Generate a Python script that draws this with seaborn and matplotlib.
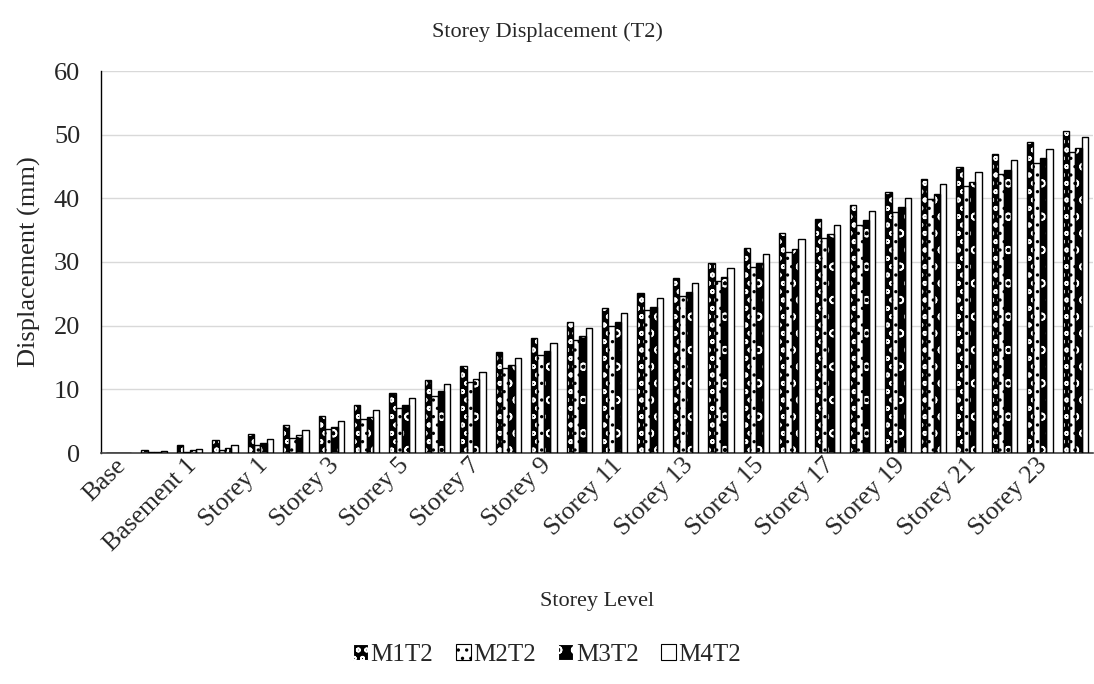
import numpy as np
import pandas as pd
import matplotlib
matplotlib.use("Agg")
import matplotlib.pyplot as plt
import matplotlib.transforms as mtransforms
from matplotlib.patches import Patch
import seaborn as sns

# Storey levels from the base upwards
levels = ["Base", "Basement 2", "Basement 1", "Ground"] + [f"Storey {i}" for i in range(1, 25)]

# Lateral storey displacement (mm) for each model under load case T2
m1t2 = [0.0, 0.4, 1.2, 2.0, 3.0, 4.4, 5.8, 7.5, 9.4, 11.5, 13.6, 15.8, 18.1, 20.5,
        22.8, 25.1, 27.5, 29.9, 32.2, 34.5, 36.7, 38.9, 41.0, 43.0, 45.0, 47.0, 48.8, 50.5]
m2t2 = [0.0, 0.15, 0.2, 0.5, 1.3, 2.4, 3.7, 5.3, 7.1, 9.0, 11.1, 13.3, 15.4, 17.7,
        20.0, 22.4, 24.7, 27.0, 29.2, 31.6, 33.8, 35.8, 37.9, 39.9, 41.9, 43.8, 45.6, 47.3]
m3t2 = [0.0, 0.2, 0.4, 0.8, 1.6, 2.8, 4.1, 5.7, 7.5, 9.7, 11.6, 13.8, 16.0, 18.3,
        20.6, 22.9, 25.3, 27.6, 29.9, 32.1, 34.4, 36.6, 38.6, 40.7, 42.6, 44.4, 46.3, 47.9]
m4t2 = [0.0, 0.25, 0.6, 1.3, 2.2, 3.6, 5.0, 6.7, 8.6, 10.8, 12.8, 15.0, 17.2, 19.6,
        22.0, 24.3, 26.7, 29.0, 31.3, 33.6, 35.8, 38.0, 40.0, 42.2, 44.1, 46.0, 47.8, 49.6]
models = ["M1T2", "M2T2", "M3T2", "M4T2"]

df = pd.DataFrame({
    "Storey": levels * 4,
    "Displacement": m1t2 + m2t2 + m3t2 + m4t2,
    "Model": np.repeat(models, len(levels)),
})

sns.set_theme(style="white")
plt.rcParams["font.family"] = ["Liberation Serif", "DejaVu Serif"]
plt.rcParams["hatch.linewidth"] = 1.2

# Black-and-white fill styles per series: face, hatch-colour, hatch
styles = {
    "M1T2": dict(facecolor="black", edgecolor="white", hatch="oo"),
    "M2T2": dict(facecolor="white", edgecolor="black", hatch=".."),
    "M3T2": dict(facecolor="black", edgecolor="white", hatch="o"),
    "M4T2": dict(facecolor="white", edgecolor="black", hatch=""),
}

fig = plt.figure(figsize=(10.94, 6.84), dpi=100)
ax = fig.add_axes([101 / 1094, 231 / 684, 992 / 1094, 382 / 684])

sns.barplot(data=df, x="Storey", y="Displacement", hue="Model", order=levels,
            hue_order=models, width=0.72, errorbar=None, legend=False, ax=ax)

for container, model in zip(ax.containers, models):
    st = styles[model]
    for bar in container:
        bar.set_facecolor(st["facecolor"])
        bar.set_edgecolor(st["edgecolor"])
        bar.set_hatch(st["hatch"])
        bar.set_linewidth(0.6)
        # thin black outline on top of the hatched fill
        x, y = bar.get_xy()
        ax.add_patch(plt.Rectangle((x, y), bar.get_width(), bar.get_height(),
                                   fill=False, edgecolor="black", linewidth=1.0, zorder=3))

ax.set_ylim(0, 60)
ax.set_yticks(np.arange(0, 61, 10))
ax.set_xlim(-0.5, len(levels) - 0.5)
ax.yaxis.grid(True, color="#d9d9d9", linewidth=1.0)
ax.set_axisbelow(True)
for side in ("top", "right"):
    ax.spines[side].set_visible(False)
ax.spines["left"].set_color("black")
ax.spines["bottom"].set_color("#404040")
ax.spines["left"].set_linewidth(1.0)
ax.spines["bottom"].set_linewidth(1.2)

ax.set_xticks(range(len(levels)))
ax.set_xticklabels([lab if i % 2 == 0 else "" for i, lab in enumerate(levels)],
                   rotation=45, ha="right", rotation_mode="anchor", fontsize=18.5)
ax.tick_params(axis="x", length=0, pad=1)
ax.tick_params(axis="y", length=0, labelsize=19, pad=15)

# nudge the rotated storey names slightly left
shift = mtransforms.ScaledTranslation(-4 / 100, 0, fig.dpi_scale_trans)
for lab in ax.get_xticklabels():
    lab.set_transform(lab.get_transform() + shift)

ax.set_xlabel("Storey Level", fontsize=16, labelpad=26)
ax.set_ylabel("Displacement (mm)", fontsize=19, labelpad=9)

fig.text(0.5, 1 - 32 / 684, "Storey Displacement (T2)", ha="center", va="center", fontsize=16)

handles = [Patch(facecolor=styles[m]["facecolor"], edgecolor=styles[m]["edgecolor"],
                 hatch=styles[m]["hatch"], linewidth=0.8, label=m) for m in models]
handles[1].set_edgecolor("black")
handles[3].set_edgecolor("black")
fig.legend(handles=handles, loc="center", bbox_to_anchor=(0.5, 1 - 655 / 684), ncol=4,
           frameon=False, fontsize=18, handlelength=0.6, handleheight=0.6,
           handletextpad=0.1, columnspacing=0.9)

fig.savefig("out.png", dpi=100)
